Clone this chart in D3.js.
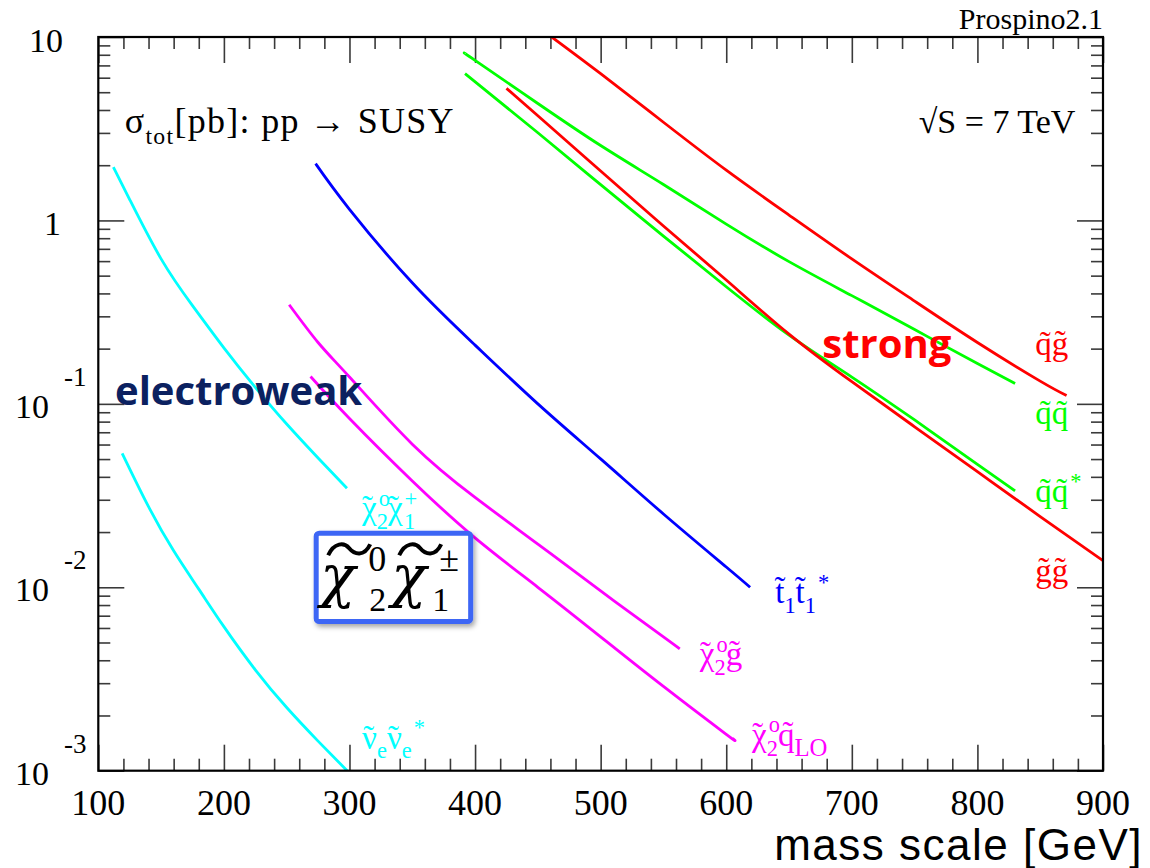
<!DOCTYPE html>
<html>
<head>
<meta charset="utf-8">
<title></title>
<style>
  body { margin: 0; background: #fff; }
  svg { display: block; font-family: "Liberation Serif", "Times New Roman", serif; }
</style>
</head>
<body>
<svg width="1150" height="868"></svg>
<script src="https://cdn.jsdelivr.net/npm/d3@7/dist/d3.min.js"></script>
<script>

// cross sections [pb] vs mass [GeV] (7 TeV)
var nuNuMass = [119, 140, 160, 180, 200, 225, 250, 275, 300];
var nuNuXsec = [0.0537, 0.0275, 0.0158, 0.00977, 0.0061, 0.00355, 0.00221, 0.00145, 0.00097];

var n2c1Mass = [112, 125, 150, 175, 200, 225, 250, 275, 298];
var n2c1Xsec = [1.95, 1.30, 0.617, 0.343, 0.202, 0.123, 0.0776, 0.0507, 0.0347];

var stopMass = [273, 300, 350, 400, 450, 500, 550, 600, 619];
var stopXsec = [2.04, 1.15, 0.457, 0.209, 0.100, 0.0501, 0.0251, 0.0129, 0.0100];

var n2gMass = [252, 275, 300, 350, 400, 450, 500, 550, 563];
var n2gXsec = [0.347, 0.216, 0.140, 0.0603, 0.0309, 0.0172, 0.00955, 0.00537, 0.00462];

var n2qMass = [269, 300, 350, 400, 450, 500, 550, 600, 605];
var n2qXsec = [0.141, 0.0832, 0.0380, 0.0186, 0.0100, 0.00537, 0.00288, 0.00158, 0.0015];

var sqglMass = [461, 500, 550, 600, 650, 700, 750, 800, 850, 871];
var sqglXsec = [10, 6.31, 3.43, 1.88, 1.07, 0.617, 0.363, 0.216, 0.133, 0.111];

var sqsqMass = [392, 400, 450, 500, 550, 600, 650, 700, 750, 800, 830];
var sqsqXsec = [8.13, 7.46, 4.34, 2.56, 1.57, 0.955, 0.596, 0.389, 0.254, 0.166, 0.129];

var sqsqbMass = [392, 450, 500, 550, 600, 650, 700, 750, 800, 830];
var sqsqbXsec = [6.31, 3.006, 1.567, 0.822, 0.435, 0.237, 0.140, 0.0817, 0.0468, 0.0335];

var glglMass = [425, 450, 500, 550, 600, 650, 700, 750, 800, 850, 900];
var glglXsec = [5.25, 3.72, 1.86, 0.933, 0.473, 0.240, 0.132, 0.075, 0.0427, 0.0243, 0.01396];

var xTickLabels = [100, 200, 300, 400, 500, 600, 700, 800, 900];
var yMajorTicks = [0.001, 0.01, 0.1, 1, 10];
var yTickBase = ["10", "10", "10", "1", "10"];
var yTickExp = ["-3", "-2", "-1", "", ""];

var CYAN = "#00ffff", BLUE = "#0000ff", MAGENTA = "#ff00ff", RED = "#ff0000", GREEN = "#00ff00";

var curves = [
  {m: nuNuMass, s: nuNuXsec, color: CYAN},
  {m: n2c1Mass, s: n2c1Xsec, color: CYAN},
  {m: stopMass, s: stopXsec, color: BLUE},
  {m: n2gMass, s: n2gXsec, color: MAGENTA},
  {m: n2qMass, s: n2qXsec, color: MAGENTA},
  {m: sqglMass, s: sqglXsec, color: RED},
  {m: sqsqMass, s: sqsqXsec, color: GREEN},
  {m: sqsqbMass, s: sqsqbXsec, color: GREEN},
  {m: glglMass, s: glglXsec, color: RED}
];

// curve labels, anchored in data units: [text, kind, scale]
// "acc" = spacing tilde centred over the previous glyph (scale = its advance in em)
var T = "\u0303", TL = "\u02dc";
var CHI = [["\u03c7"], [TL, "acc", 0.55]];
var NU = [["\u03bd"], [TL, "acc", 0.5]];
var curveLabels = [
  {m: 846, s: 0.184, color: RED, parts: [["q" + T + "g" + T]]},
  {m: 846, s: 0.0774, color: GREEN, parts: [["q" + T + "q" + T]]},
  {m: 846, s: 0.0290, color: GREEN, parts: [["q" + T + "q" + T], ["*", "sup"]]},
  {m: 846, s: 0.01064, color: RED, parts: [["g" + T + "g" + T]]},
  {m: 639, s: 0.00817, color: BLUE, parts: [["t" + T], ["1", "sub"], ["t" + T], ["1", "sub"], ["*", "sup"]]},
  {m: 579, s: 0.00375, color: MAGENTA, parts: CHI.concat([["o", "sup"], ["2", "subBack"], ["g" + T]])},
  {m: 620.6, s: 0.00137, color: MAGENTA, parts: CHI.concat([["o", "sup"], ["2", "subBack"], ["q" + T], ["LO", "sub", 0.75]])},
  {m: 310, s: 0.0236, color: CYAN, parts: CHI.concat([["o", "sup"], ["2", "subBack"]], CHI, [["+", "sup"], ["1", "subBack"]])},
  {m: 310, s: 0.00132, color: CYAN, parts: NU.concat([["e", "sub"]], NU, [["e", "sub"], ["*", "sup"]])}
];

var svg = d3.select("svg");
var padL = 98.3, padR = 1103, padT = 37, padB = 770.7;

var x = d3.scaleLinear().domain([100, 900]).range([padL, padR]);
var y = d3.scaleLog().domain([0.001, 10]).range([padB, padT]);

var defs = svg.append("defs");
defs.append("clipPath").attr("id", "plot")
  .append("rect").attr("x", padL).attr("y", padT)
  .attr("width", padR - padL).attr("height", padB - padT);

var shadow = defs.append("filter").attr("id", "shadow")
  .attr("x", "-20%").attr("y", "-20%").attr("width", "140%").attr("height", "150%");
shadow.append("feDropShadow").attr("dx", 2).attr("dy", 3).attr("stdDeviation", 2.5)
  .attr("flood-color", "#000").attr("flood-opacity", 0.35);

// ticks
var xMajor = d3.range(100, 901, 100);
var xMinor = d3.range(120, 900, 20).filter(function(v) { return v % 100 !== 0; });
var yMinor = [];
[0.001, 0.01, 0.1, 1].forEach(function(d) {
  for (var k = 2; k <= 9; k++) yMinor.push(d * k);
});

function tickGroup(axis, tx, ty) {
  var g = svg.append("g").attr("transform", "translate(" + tx + "," + ty + ")").call(axis);
  g.select(".domain").remove();
  g.selectAll("line").attr("stroke", "#3a3a3a").attr("stroke-width", 1.6);
  return g;
}

[[xMajor, 26], [xMinor, 12]].forEach(function(t) {
  tickGroup(d3.axisBottom(x).tickValues(t[0]).tickSize(-t[1]).tickSizeOuter(0).tickFormat(""), 0, padB);
  tickGroup(d3.axisTop(x).tickValues(t[0]).tickSize(-t[1]).tickSizeOuter(0).tickFormat(""), 0, padT);
});
[[yMajorTicks, 26], [yMinor, 12]].forEach(function(t) {
  tickGroup(d3.axisLeft(y).tickValues(t[0]).tickSize(-t[1]).tickSizeOuter(0).tickFormat(""), padL, 0);
  tickGroup(d3.axisRight(y).tickValues(t[0]).tickSize(-t[1]).tickSizeOuter(0).tickFormat(""), padR, 0);
});

// curves
var line = d3.line()
  .x(function(d) { return x(d[0]); })
  .y(function(d) { return y(d[1]); })
  .curve(d3.curveNatural);

svg.append("g").attr("clip-path", "url(#plot)")
  .selectAll("path").data(curves).enter().append("path")
  .attr("d", function(c) { return line(d3.zip(c.m, c.s)); })
  .attr("fill", "none")
  .attr("stroke", function(c) { return c.color; })
  .attr("stroke-width", 2.8);

// frame
svg.append("rect").attr("x", padL).attr("y", padT)
  .attr("width", padR - padL).attr("height", padB - padT)
  .attr("fill", "none").attr("stroke", "#000").attr("stroke-width", 2.2);

// tick labels
svg.append("g").selectAll("text").data(xTickLabels).enter().append("text")
  .attr("x", function(d) { return x(d); })
  .attr("y", padB + 44)
  .attr("text-anchor", "middle")
  .style("font-size", "36px")
  .text(function(d) { return d; });

yMajorTicks.forEach(function(v, i) {
  var ty = y(v);
  if (yTickExp[i] === "") {
    svg.append("text").attr("x", v === 1 ? 61 : 63).attr("y", ty + 15)
      .attr("text-anchor", "end").style("font-size", "34px").text(yTickBase[i]);
  } else {
    svg.append("text").attr("x", 49).attr("y", ty + 14)
      .attr("text-anchor", "end").style("font-size", "34px").text(yTickBase[i]);
    svg.append("text").attr("x", 64).attr("y", ty - 18)
      .style("font-size", "27px").text(yTickExp[i]);
  }
});

svg.append("text").attr("x", 1143).attr("y", 860)
  .attr("text-anchor", "end")
  .style("font-family", "'Liberation Sans', Arial, sans-serif")
  .style("font-size", "44px").style("letter-spacing", "1.5px")
  .text("mass scale [GeV]");

svg.append("text").attr("x", padR).attr("y", 29)
  .attr("text-anchor", "end").style("font-size", "30px").text("Prospino2.1");

// rich text helper: sup / sub / subBack (sub stacked under previous sup) / acc
function richText(px, py, size, color, parts) {
  var t = svg.append("text").attr("x", px).attr("y", py)
    .attr("fill", color).style("font-size", size + "px");
  var shift = 0, carry = 0;
  parts.forEach(function(p) {
    var kind = p[1] || "n";
    var scale = p[2] || 0.68;
    var target = kind === "sup" ? -0.4 * size : ((kind === "sub" || kind === "subBack") ? 0.3 * size : 0);
    var ts = t.append("tspan").text(p[0]).attr("dy", target - shift);
    shift = target;
    var dx = carry;
    carry = 0;
    if (kind === "sub" || kind === "sup" || kind === "subBack") ts.style("font-size", (scale * size) + "px");
    if (kind === "sup") dx += 2;
    if (kind === "subBack") dx += -0.34 * size - 2;
    if (kind === "acc") {
      dx += -(scale / 2 + 0.1665) * size;
      carry = (scale / 2 - 0.1665) * size;
    }
    if (dx) ts.attr("dx", dx);
  });
  return t;
}

richText(x(121), y(2.99), 36, "#000",
  [["\u03c3"], ["tot", "sub", 0.66], ["[pb]: pp \u2192 SUSY"]])
  .style("letter-spacing", "1.3px");

svg.append("text").attr("x", x(878)).attr("y", y(2.99))
  .attr("text-anchor", "end").style("font-size", "34px").text("\u221aS = 7 TeV");

curveLabels.forEach(function(l) {
  richText(x(l.m), y(l.s), 33, l.color, l.parts);
});

svg.append("text").attr("x", x(113.3)).attr("y", y(0.098))
  .style("font-family", "'Open Sans', sans-serif").style("font-weight", 700)
  .style("font-size", "40px").attr("fill", "#0b2160").text("electroweak");

svg.append("text").attr("x", x(676.5)).attr("y", y(0.1775))
  .style("font-family", "'Open Sans', sans-serif").style("font-weight", 700)
  .style("font-size", "40px").attr("fill", RED).text("strong");

// highlighted chi20 chi1+- box
var bx = x(273.5), by = y(0.0197), bw = x(396.5) - bx, bh = y(0.0065) - by;
var box = svg.append("g").attr("transform", "translate(" + bx + "," + by + ")");
box.append("rect").attr("width", bw).attr("height", bh).attr("rx", 3)
  .attr("fill", "#fff").attr("stroke", "#3d66f5").attr("stroke-width", 5)
  .attr("filter", "url(#shadow)");

function bigChi(ox, supTxt, subTxt, supX, subX) {
  box.append("text").attr("x", ox).attr("y", 63)
    .style("font-family", "'DejaVu Serif', serif")
    .style("font-style", "italic").style("font-size", "58px").text("\u03c7");
  box.append("path")
    .attr("d", "M" + (ox + 8) + ",22 C" + (ox + 14) + ",9 " + (ox + 24) + ",9 " + (ox + 29) + ",15 S" +
      (ox + 44) + ",24 " + (ox + 50) + ",11")
    .attr("fill", "none").attr("stroke", "#000").attr("stroke-width", 4);
  box.append("text").attr("x", supX).attr("y", 38).style("font-size", "36px").text(supTxt);
  box.append("text").attr("x", subX).attr("y", 78).style("font-size", "34px").text(subTxt);
}
bigChi(4, "0", "2", 52, 53);
bigChi(75, "\u00b1", "1", 123, 116);

</script>
</body>
</html>
